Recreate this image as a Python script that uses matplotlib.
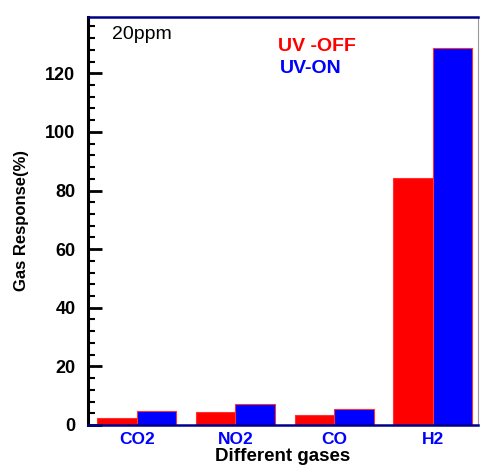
import matplotlib
matplotlib.use("Agg")
import matplotlib.pyplot as plt
import numpy as np
from matplotlib.ticker import MultipleLocator

plt.rcParams['font.family'] = ['Liberation Sans', 'DejaVu Sans']

# data
gases = ['CO2', 'NO2', 'CO', 'H2']
uv_off = [2.5, 4.3, 3.4, 84.2]
uv_on = [4.9, 7.3, 5.5, 128.7]

fig = plt.figure(figsize=(4.8, 4.68), dpi=100)
ax = fig.add_axes([0.1833, 0.0919, 0.8125, 0.8724])

x = np.arange(len(gases))
w = 0.4
ax.bar(x, uv_off, width=-w, align='edge', color='#ff0000', edgecolor='#ff3030', linewidth=0.8)
ax.bar(x, uv_on, width=w, align='edge', color='#0000ff', edgecolor='#ff3030', linewidth=0.8)

ax.set_xlim(-0.493, 3.458)
ax.set_ylim(0, 139.3)

ax.yaxis.set_major_locator(MultipleLocator(20))
ax.yaxis.set_minor_locator(MultipleLocator(4))
ax.tick_params(axis='y', which='major', direction='in', length=10, width=2, labelsize=13, pad=9)
ax.tick_params(axis='y', which='minor', direction='in', length=5, width=1.5)
ax.tick_params(axis='x', length=0, labelsize=12.5, labelcolor='#0000ff', pad=5)
ax.set_xticks(x)
ax.set_xticklabels(gases, fontweight='bold')
for lab in ax.get_yticklabels():
    lab.set_fontweight('bold')

ax.spines['left'].set_linewidth(2.2)
ax.spines['left'].set_color('black')
ax.spines['bottom'].set_linewidth(1.8)
ax.spines['bottom'].set_color('#00008b')
ax.spines['top'].set_linewidth(1.8)
ax.spines['top'].set_color('#00008b')
ax.spines['right'].set_linewidth(0.8)
ax.spines['right'].set_color('#999999')

ax.set_ylabel('Gas Response(%)', fontsize=12, fontweight='bold')
ax.yaxis.set_label_coords(-0.15, 0.5)
ax.set_xlabel('Different gases', fontsize=13.5, fontweight='bold', labelpad=1)

ax.text(0.0615, 0.9576, '20ppm', transform=ax.transAxes, fontsize=14, va='center', ha='left')
ax.text(0.487, 0.928, 'UV -OFF', transform=ax.transAxes, fontsize=14, fontweight='bold',
        color='#ff0000', va='center', ha='left')
ax.text(0.492, 0.872, 'UV-ON', transform=ax.transAxes, fontsize=14, fontweight='bold',
        color='#0000ff', va='center', ha='left')

fig.savefig('out.png', dpi=100)
